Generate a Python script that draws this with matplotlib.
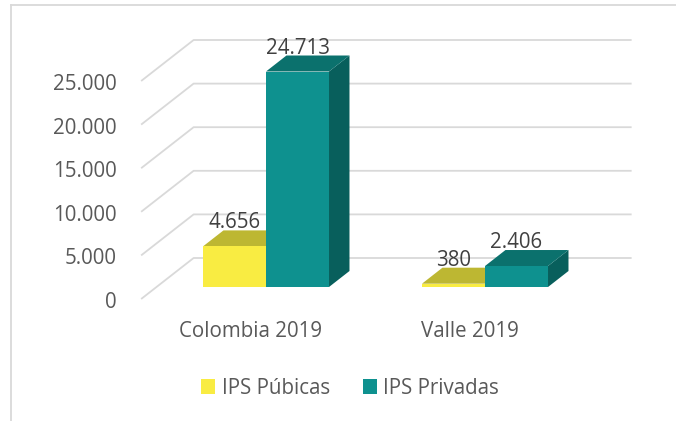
import matplotlib
matplotlib.use("Agg")
import matplotlib.pyplot as plt
from matplotlib.patches import Polygon, Rectangle, Patch
from matplotlib.lines import Line2D

# ---------------- data ----------------
categories = ["Colombia 2019", "Valle 2019"]
series_names = ["IPS Púbicas", "IPS Privadas"]
publicas = [4656, 380]
privadas = [24713, 2406]
yticks = [0, 5000, 10000, 15000, 20000, 25000]
ytick_labels = ["0", "5.000", "10.000", "15.000", "20.000", "25.000"]

# ---------------- style / layout ----------------
W, H = 676, 421
FONT = ["Open Sans", "DejaVu Sans"]
plt.rcParams["font.family"] = FONT

front_cols = ["#F9EC42", "#0E918F"]
top_cols = ["#BDB732", "#0B716D"]
side_cols = ["#C9C13A", "#085F5C"]
GRID = "#D9D9D9"
TXT = "#595959"
VAL = "#404040"

X0, PXC = 266.0, 219.0       # pixel of category 0 centre, pixels per category
Y0, PXV = 287.0, 0.00872     # pixel (from top) of value 0, pixels per unit
SLOPE = 1.28
D_FRONT, D_BACK, D_BAR = -12, 29, 16
BAR_W = 0.2877
FS = 14.8

fig = plt.figure(figsize=(W / 100, H / 100), dpi=100)
ax = fig.add_axes([0, 0, 1, 1])
ax.set_xlim(-X0 / PXC, (W - X0) / PXC)
ax.set_ylim((Y0 - H) / PXV, Y0 / PXV)
ax.axis("off")


def ox(d):
    return d * SLOPE / PXC


def oy(d):
    return d / PXV


def px_y(p):
    return p / PXV


x_lo, x_hi = -0.5, len(categories) - 0.5

# gridlines (side wall diagonal + back wall horizontal)
for t in yticks:
    xs = [x_lo + ox(D_FRONT), x_lo + ox(D_BACK), x_hi + ox(D_BACK)]
    ys = [t + oy(D_FRONT), t + oy(D_BACK), t + oy(D_BACK)]
    ax.plot(xs, ys, color=GRID, lw=1.3, solid_capstyle="butt", zorder=1)

# tick labels
for t, lab in zip(yticks, ytick_labels):
    ax.text((117 - X0) / PXC, t + oy(D_FRONT) - px_y(9), lab, ha="right",
            va="baseline", fontsize=FS, color=TXT)

# bars
series = [publicas, privadas]
dx, dy = ox(D_BAR), oy(D_BAR)
for i in range(len(categories)):
    for j, vals in enumerate(series):
        v = vals[i]
        xl = i - BAR_W + j * BAR_W
        xr = xl + BAR_W
        z = 3 + j
        ax.add_patch(Polygon([(xr, 0), (xr, v), (xr + dx, v + dy), (xr + dx, dy)],
                             closed=True, fc=side_cols[j], ec="none", zorder=z))
        ax.add_patch(Polygon([(xl, v), (xr, v), (xr + dx, v + dy), (xl + dx, v + dy)],
                             closed=True, fc=top_cols[j], ec="none", zorder=z))
        ax.add_patch(Rectangle((xl, 0), BAR_W, v, fc=front_cols[j], ec="none", zorder=z))
        lab = f"{v:,}".replace(",", ".")
        ax.text((xl + xr) / 2, v + dy + px_y(2), lab, ha="center", va="baseline",
                fontsize=FS, color=VAL, zorder=10)

# category labels
for i, c in enumerate(categories):
    ax.text(i + ox(D_FRONT), -px_y(50), c, ha="center", va="baseline",
            fontsize=FS, color=TXT)

# legend
handles = [Patch(fc=front_cols[k], ec="none", label=series_names[k]) for k in range(2)]
fig.legend(handles=handles, loc="center", bbox_to_anchor=(350 / W, 1 - 388 / H),
           ncol=2, frameon=False, handlelength=0.7, handleheight=0.7,
           handletextpad=0.3, columnspacing=1.6, fontsize=FS, labelcolor=TXT)

# chart border
fig.add_artist(Line2D([10.5 / W, 1], [1 - 4.5 / H, 1 - 4.5 / H],
                      transform=fig.transFigure, color=GRID, lw=1.3))
fig.add_artist(Line2D([10.5 / W, 10.5 / W], [0, 1 - 4.5 / H],
                      transform=fig.transFigure, color=GRID, lw=1.3))

fig.savefig("out.png", dpi=100, facecolor="white")
